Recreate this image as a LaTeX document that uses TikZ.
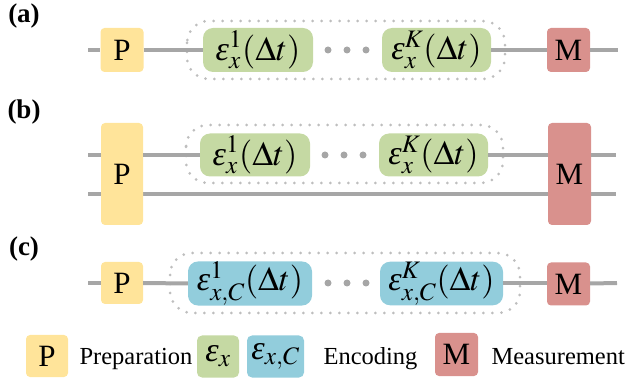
\documentclass[tikz,border=0pt]{standalone}
\usepackage{mathptmx}
\usepackage[no-math]{fontspec}
\setmainfont{Liberation Serif}
\newcommand\myeps{\mbox{\itshape ε}}
\definecolor{pyellow}{RGB}{255,228,154}
\definecolor{egreen}{RGB}{197,217,163}
\definecolor{cblue}{RGB}{146,205,220}
\definecolor{mred}{RGB}{217,145,141}
\definecolor{wiregray}{RGB}{166,166,166}
\definecolor{dotgray}{RGB}{190,190,190}
\tikzset{
  wire/.style={draw=wiregray, line width=4pt},
  gatebox/.style={rounded corners=4pt, inner sep=0pt, minimum width=43pt, minimum height=44pt, font=\fontsize{31}{31}\selectfont},
  pgate/.style={gatebox, fill=pyellow},
  mgate/.style={gatebox, fill=mred},
  egate/.style={rounded corners=10pt, inner sep=0pt, minimum height=44pt, fill=egreen, font=\fontsize{34}{34}\selectfont},
  cgate/.style={rounded corners=10pt, inner sep=0pt, minimum height=43pt, fill=cblue, font=\fontsize{34}{34}\selectfont},
  region/.style={draw=dotgray, line width=3pt, line cap=round, dash pattern=on 0pt off 9pt, rounded corners=22pt},
  edot/.style={circle, fill=wiregray, inner sep=0pt, minimum size=7pt},
  panel/.style={font=\fontsize{27}{27}\selectfont\bfseries},
  legtext/.style={anchor=base west, font=\fontsize{24.5}{24.5}\selectfont}
}
\begin{document}
\begin{tikzpicture}[x=1pt,y=-1pt]
\useasboundingbox (0,0) rectangle (627,382);
% ---------- (a)
\node[panel] (la) at (24,16) {(a)};
\draw[region] (187,21) rectangle (505,79);
\node[pgate] (aP) at (122,50) {P};
\node[egate, minimum width=110pt] (aE1) at (258,50) {$\myeps_x^1(\Delta t)$};
\node[egate, minimum width=109pt] (aE2) at (436.5,50) {$\myeps_x^K(\Delta t)$};
\node[mgate] (aM) at (568.5,50) {M};
\node[edot] (ad1) at (328,50) {};
\node[edot] (ad2) at (347,50) {};
\node[edot] (ad3) at (366,50) {};
\coordinate (aL) at (88,50);
\coordinate (aR) at (618,50);
\draw[wire] (aL) -- (aP.west);
\draw[wire] (aP.east) -- (aE1.west);
\draw[wire] (aE2.east) -- (aM.west);
\draw[wire] (aM.east) -- (aR);
% ---------- (b)
\node[panel] (lb) at (24,112) {(b)};
\coordinate (bLL) at (88,194);
\coordinate (bLR) at (616,194);
\draw[wire] (bLL) -- (bLR);
\draw[region] (186,125) rectangle (503,183);
\node[pgate, minimum height=102pt, minimum width=42pt] (bP) at (122,174) {P};
\node[mgate, minimum height=102pt] (bM) at (569.5,174) {M};
\node[egate, minimum width=110pt, minimum height=43pt] (bE1) at (255,155) {$\myeps_x^1(\Delta t)$};
\node[egate, minimum width=109pt, minimum height=43pt] (bE2) at (433.5,155) {$\myeps_x^K(\Delta t)$};
\node[edot] (bd1) at (325,155) {};
\node[edot] (bd2) at (344,155) {};
\node[edot] (bd3) at (363,155) {};
\coordinate (bUL) at (88,155);
\coordinate (bUR) at (616,155);
\draw[wire] (bUL) -- (bUL -| bP.west);
\draw[wire] (bUL -| bP.east) -- (bE1.west);
\draw[wire] (bE2.east) -- (bUR -| bM.west);
\draw[wire] (bUR -| bM.east) -- (bUR);
% ---------- (c)
\node[panel] (lc) at (24,249) {(c)};
\draw[region] (170,253) rectangle (520,313);
\node[pgate, minimum width=42pt, minimum height=42pt] (cP) at (122,283) {P};
\node[cgate, minimum width=124pt] (cC1) at (250,283.5) {$\myeps_{x,C}^1(\Delta t)$};
\node[cgate, minimum width=123pt] (cC2) at (441.5,283.5) {$\myeps_{x,C}^K(\Delta t)$};
\node[mgate, minimum height=43pt] (cM) at (568.5,284) {M};
\node[edot] (cd1) at (328,283) {};
\node[edot] (cd2) at (347,283) {};
\node[edot] (cd3) at (366,283) {};
\coordinate (cL) at (88,283);
\coordinate (cR) at (617,283);
\draw[wire] (cL) -- (cP.west);
\draw[wire] (cP.east) -- (cC1.west);
\draw[wire] (cC2.east) -- (cC2.east -| cM.west);
\draw[wire] (cC2.east -| cM.east) -- (cR);
% ---------- legend
\node[pgate, minimum width=42pt, minimum height=42pt] (gP) at (47,356) {P};
\node[legtext] (tP) at (76,364) {Preparation};
\node[egate, minimum width=42pt, minimum height=42pt, rounded corners=5pt] (gE) at (218,356.5) {$\myeps_x$};
\node[cgate, minimum width=57pt, minimum height=42pt, rounded corners=5pt] (gC) at (275.5,356.5) {$\myeps_{x,C}$};
\node[legtext] (tE) at (320,364) {Encoding};
\node[mgate, minimum height=43pt] (gM) at (456.5,354.5) {M};
\node[legtext] (tM) at (488,364) {Measurement};
\end{tikzpicture}
\end{document}
